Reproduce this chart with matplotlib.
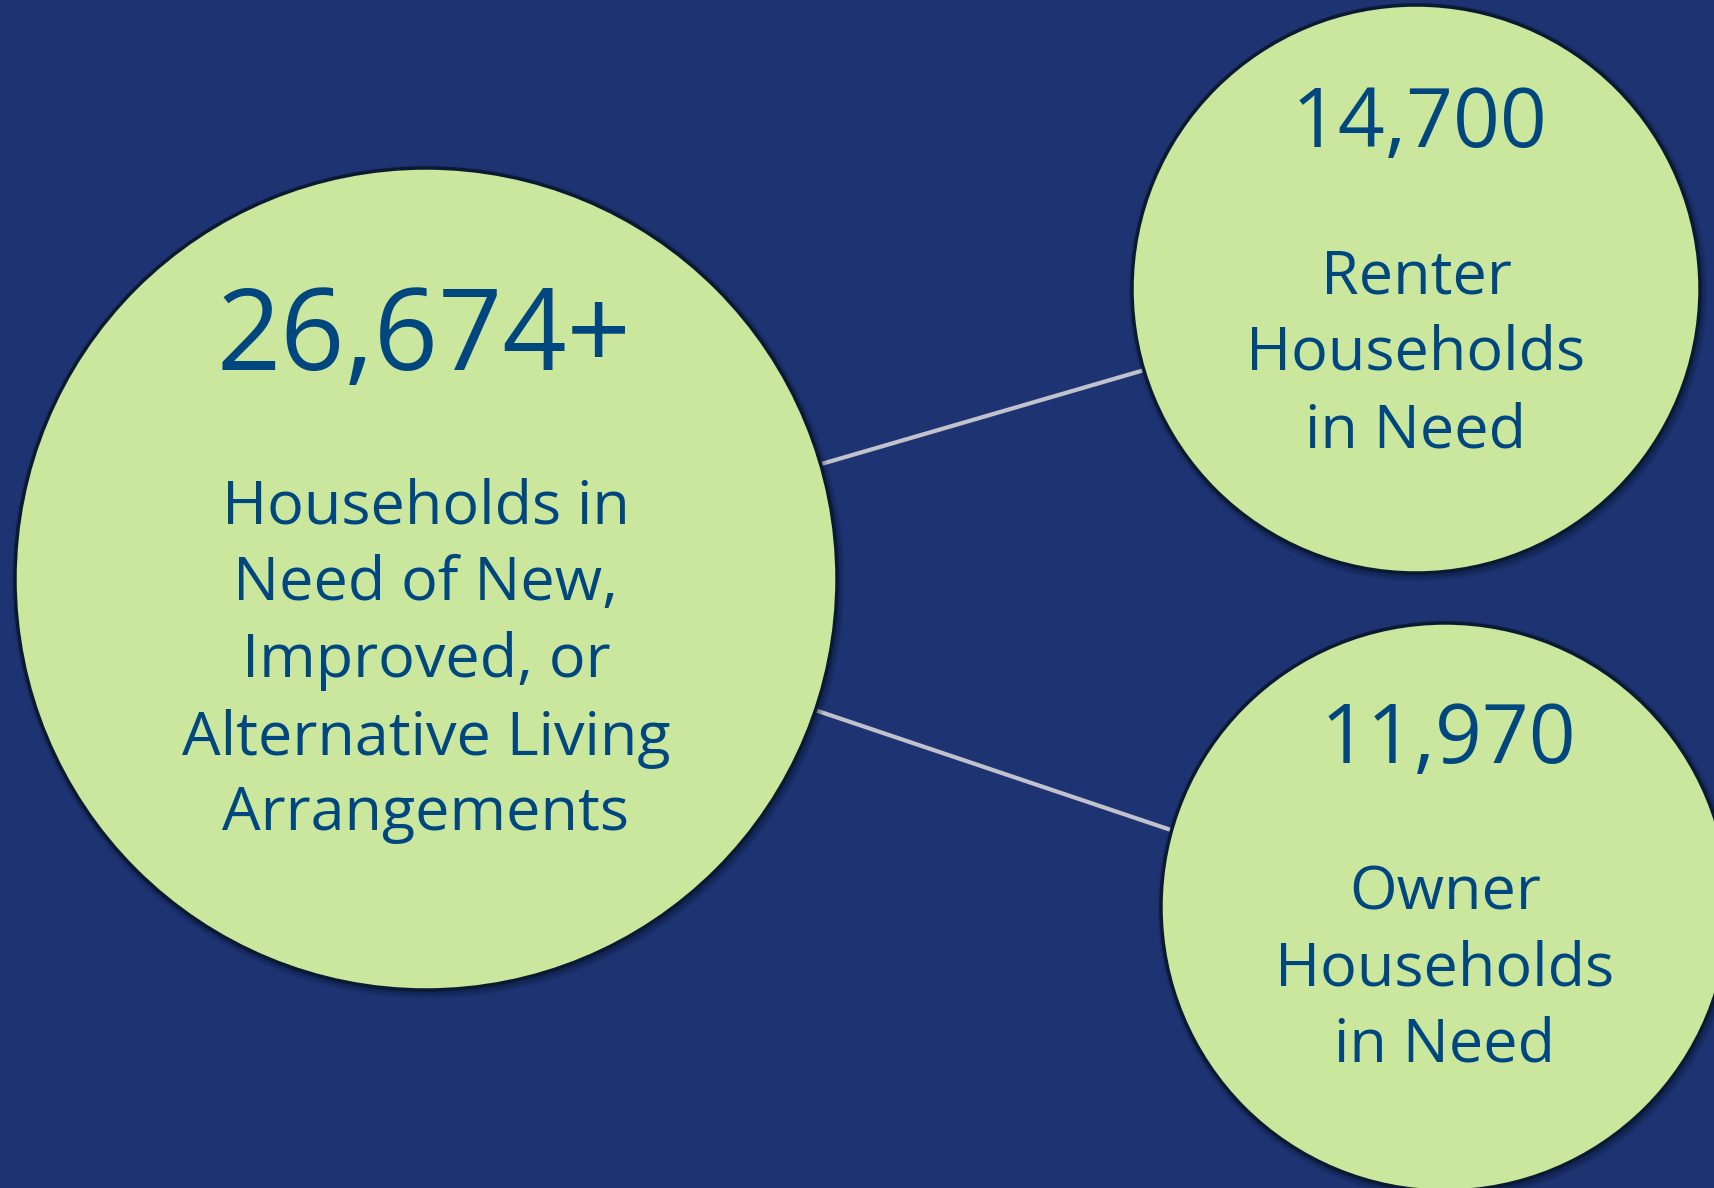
import matplotlib
matplotlib.use("Agg")
import matplotlib.pyplot as plt
from matplotlib.patches import Circle

# ---- data ----
categories = ["Total", "Renter", "Owner"]
values = [26674, 14700, 11970]
value_labels = ["26,674+", "14,700", "11,970"]
descriptions = [
    ["Households in", "Need of New,", "Improved, or", "Alternative Living", "Arrangements"],
    ["Renter", "Households", "in Need"],
    ["Owner", "Households", "in Need"],
]

# ---- layout (pixel coordinates) ----
W, H = 1714, 1188
centers = [(426, 579), (1416, 289), (1445, 907)]
radii = [411, 284, 284]
num_x = [424, 1419, 1448]
num_baseline = [370, 147, 763]
num_size = [81, 59, 59]
desc_baselines = [[523, 600, 677, 755, 830], [293, 370, 447], [909, 986, 1062]]
desc_size = [44, 44, 44]
connector_ends = [None, (1141, 371), (1168, 829)]

BG = "#1E3372"
FILL = "#CAE79D"
EDGE = "#0B1A33"
TXT = "#00467F"
LINE = "#C2C2CC"

plt.rcParams['font.family'] = ['Open Sans', 'DejaVu Sans']

fig = plt.figure(figsize=(W / 100, H / 100), dpi=100, facecolor=BG)
ax = fig.add_axes([0, 0, 1, 1])
ax.set_facecolor(BG)
ax.set_xlim(0, W)
ax.set_ylim(H, 0)
ax.axis("off")

# connectors from main circle toward sub-circles
cx0, cy0 = centers[0]
for end in connector_ends[1:]:
    ex, ey = end
    dx, dy = ex - cx0, ey - cy0
    ax.plot([cx0, ex + dx * 0.02], [cy0, ey + dy * 0.02], color=LINE, lw=3,
            solid_capstyle="butt", zorder=1)

# circles with soft shadow
for (cx, cy), r in zip(centers, radii):
    for k, a in zip(range(6, 0, -1), [0.05, 0.06, 0.07, 0.08, 0.09, 0.1]):
        ax.add_patch(Circle((cx + 2, cy + 3), r + k, facecolor="#0A1530",
                            edgecolor="none", alpha=a, zorder=2))
    ax.add_patch(Circle((cx, cy), r, facecolor=FILL, edgecolor=EDGE,
                        lw=2.5, zorder=3))

# texts
for i, (cx, cy) in enumerate(centers):
    ax.text(num_x[i], num_baseline[i], value_labels[i], ha="center", va="baseline",
            fontsize=num_size[i], color=TXT, zorder=4)
    for line, yb in zip(descriptions[i], desc_baselines[i]):
        ax.text(cx, yb, line, ha="center", va="baseline",
                fontsize=desc_size[i], color=TXT, zorder=4)

fig.savefig("out.png", dpi=100, facecolor=BG)
